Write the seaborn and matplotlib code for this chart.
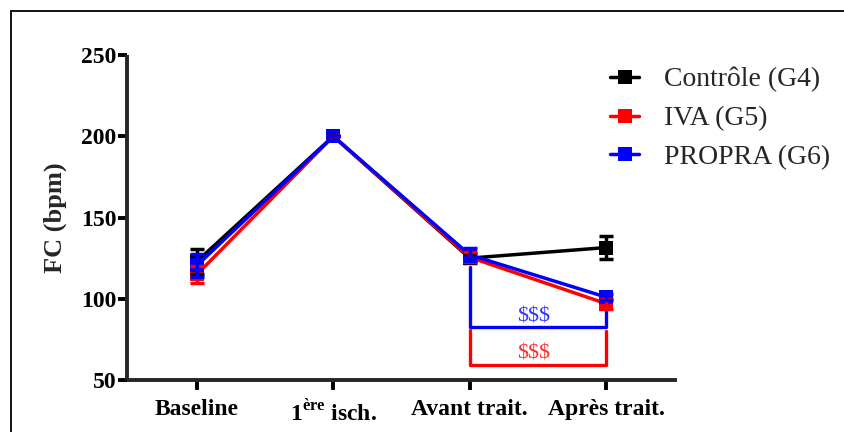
import matplotlib
matplotlib.use("Agg")
import matplotlib.pyplot as plt
from matplotlib.patches import Rectangle
import numpy as np
import pandas as pd
import seaborn as sns

# Heart rate (FC) per phase and group, mean and SEM
phases = ["Baseline", "1ère isch.", "Avant trait.", "Après trait."]
groups = ["Contrôle (G4)", "IVA (G5)", "PROPRA (G6)"]
controle_mean = [123, 200, 125, 131.5]
controle_sem = [7.5, 0, 3, 7]
iva_mean = [115, 200, 125.5, 97]
iva_sem = [5, 0, 3, 3]
propra_mean = [120.5, 200, 127, 101]
propra_sem = [7, 0, 4, 2]
colors = ["black", "red", "blue"]
yticks = [50, 100, 150, 200, 250]
tick_labels = ["Baseline", r"1$^{\mathbf{ère}}$ isch.", "Avant trait.", "Après trait."]

# Significance brackets (Avant vs Après): y of left top, bottom, right top
brackets = [
    {"label": "$$$", "color": "blue", "text_color": "#3535ff", "left": 119.5, "bottom": 82.6, "right": 98},
    {"label": "$$$", "color": "red", "text_color": "#ff3030", "left": 80.5, "bottom": 59.3, "right": 80},
]

sns.set_style("ticks")
plt.rcParams["font.family"] = ["Liberation Serif", "DejaVu Serif"]
plt.rcParams["mathtext.fontset"] = "custom"
plt.rcParams["mathtext.rm"] = "Liberation Serif"
plt.rcParams["mathtext.bf"] = "Liberation Serif:bold"

means = [controle_mean, iva_mean, propra_mean]
sems = [controle_sem, iva_sem, propra_sem]
rows = []
for g, m, s in zip(groups, means, sems):
    for i, (mv, sv) in enumerate(zip(m, s)):
        rows.append({"pos": i, "FC": mv, "sem": sv, "group": g})
df = pd.DataFrame(rows)

fig = plt.figure(figsize=(8.45, 4.32), dpi=100)
ax = fig.add_axes([127 / 845, 1 - 380 / 432, 550 / 845, 325 / 432])

sns.lineplot(data=df, x="pos", y="FC", hue="group", hue_order=groups,
             palette=colors, marker="s", markersize=10, markeredgewidth=0,
             linewidth=2.5, errorbar=None, ax=ax, legend=True)

for g, c in zip(groups, colors):
    sub = df[df["group"] == g]
    ax.errorbar(sub["pos"], sub["FC"], yerr=sub["sem"], fmt="none",
                ecolor=c, elinewidth=2.5, capsize=5, capthick=2.5, zorder=3)

# Brackets
x0, x1 = 2, 3
for b in brackets:
    ax.plot([x0, x0, x1, x1], [b["left"], b["bottom"], b["bottom"], b["right"]],
            color=b["color"], linewidth=2.4, solid_joinstyle="round",
            solid_capstyle="round", zorder=2)
    ax.text((x0 + x1) / 2 - 0.03, b["bottom"] + 0.6, b["label"],
            color=b["text_color"], fontsize=16, ha="center", va="bottom")

ax.set_xlim(-0.513, 3.52)
ax.set_ylim(50, 250)
ax.set_yticks(yticks)
ax.set_xticks(range(len(phases)))
ax.set_xticklabels(tick_labels, fontsize=17, fontweight="bold")
ax.set_yticklabels([str(v) for v in yticks], fontsize=17, fontweight="bold")
ax.set_xlabel("")
ax.set_ylabel("FC (bpm)", fontsize=19, fontweight="bold", labelpad=10)
sns.despine(ax=ax)
for sp in ["left", "bottom"]:
    ax.spines[sp].set_linewidth(2.8)
    ax.spines[sp].set_capstyle("butt")
ax.tick_params(axis="y", width=2.8, length=6.5, direction="out", colors="black", pad=1)
ax.tick_params(axis="x", width=2.8, length=7, direction="out", colors="black", pad=7)

handles, labels = ax.get_legend_handles_labels()
ax.legend(handles, labels, loc="upper left", bbox_to_anchor=(610 / 845, 1 - 67 / 432),
          bbox_transform=fig.transFigure, frameon=False, fontsize=20,
          handlelength=1.05, handletextpad=0.9, labelspacing=0.48,
          borderpad=0, borderaxespad=0)

# Outer frame
fig.patches.append(Rectangle((11 / 845, -0.1), 1.2, 1 - 11 / 432 + 0.1,
                             transform=fig.transFigure, fill=False,
                             edgecolor="black", linewidth=1.3))

fig.savefig("out.png", dpi=100)
